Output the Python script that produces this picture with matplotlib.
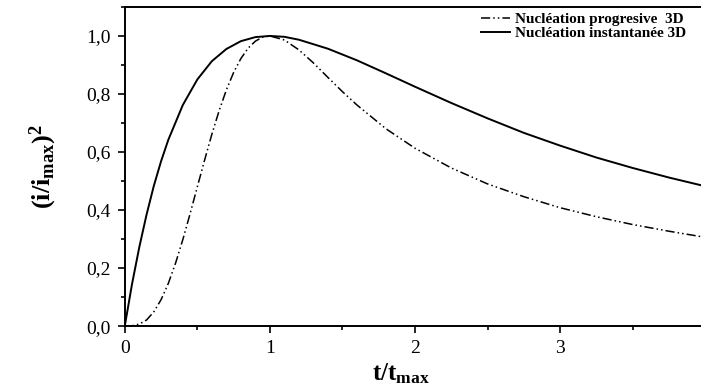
import numpy as np
import matplotlib
matplotlib.use('Agg')
import matplotlib.pyplot as plt
from matplotlib.ticker import MultipleLocator, FuncFormatter

plt.rcParams['font.family'] = ['Liberation Serif', 'DejaVu Serif']
plt.rcParams['mathtext.fontset'] = 'custom'
plt.rcParams['mathtext.rm'] = 'Liberation Serif'
plt.rcParams['mathtext.bf'] = 'Liberation Serif:bold'
plt.rcParams['mathtext.it'] = 'Liberation Serif:italic'

# instantaneous 3D
t_inst = [0, 0.05, 0.1, 0.15, 0.2, 0.25, 0.3, 0.4, 0.5, 0.6, 0.7, 0.8, 0.9, 1.0,
          1.1, 1.2, 1.4, 1.6, 1.8, 2.0, 2.25, 2.5, 2.75, 3.0, 3.25, 3.5, 3.75, 4.0]
y_inst = [0.0, 0.145, 0.272, 0.384, 0.483, 0.568, 0.642, 0.762, 0.850, 0.913, 0.955, 0.982, 0.996, 1.0,
          0.997, 0.987, 0.956, 0.916, 0.871, 0.825, 0.769, 0.716, 0.666, 0.622, 0.581, 0.545, 0.512, 0.482]

# progressive 3D
t_prog = [0, 0.05, 0.1, 0.15, 0.2, 0.25, 0.3, 0.35, 0.4, 0.45, 0.5, 0.55, 0.6, 0.65, 0.7, 0.75,
          0.8, 0.85, 0.9, 0.95, 1.0, 1.1, 1.2, 1.3, 1.4, 1.5, 1.6, 1.8, 2.0, 2.25, 2.5, 2.75,
          3.0, 3.25, 3.5, 3.75, 4.0]
y_prog = [0.0, 0.001, 0.007, 0.021, 0.049, 0.091, 0.147, 0.217, 0.298, 0.387, 0.480, 0.572, 0.661,
          0.742, 0.814, 0.874, 0.922, 0.958, 0.982, 0.996, 1.0, 0.986, 0.952, 0.907, 0.857, 0.808,
          0.762, 0.680, 0.613, 0.545, 0.490, 0.446, 0.408, 0.377, 0.350, 0.327, 0.306]

fig = plt.figure(figsize=(7.01, 3.85), dpi=100)
ax = fig.add_axes([0.178, 0.153, 0.828, 0.829])

ax.plot(t_prog, y_prog, color='black', linewidth=1.1,
        linestyle=(0, (6, 2, 1, 2, 1, 2)), label='Nucléation progresive  3D')
ax.plot(t_inst, y_inst, color='black', linewidth=1.4, label='Nucléation instantanée 3D')

ax.set_xlim(0, 4)
ax.set_ylim(0, 1.1)
ax.xaxis.set_major_locator(MultipleLocator(1))
ax.xaxis.set_minor_locator(MultipleLocator(0.5))
ax.yaxis.set_major_locator(MultipleLocator(0.2))
ax.yaxis.set_minor_locator(MultipleLocator(0.1))
# label "4" falls off the right edge of the figure
ax.xaxis.set_major_formatter(FuncFormatter(lambda v, p: f'{v:.0f}' if v < 3.5 else ''))
ax.yaxis.set_major_formatter(FuncFormatter(lambda v, p: f'{v:.1f}'.replace('.', ',')))
ax.tick_params(which='both', direction='out', labelsize=14, width=1.2)
ax.tick_params(which='major', length=5, pad=5)
ax.tick_params(which='minor', length=3)
for s in ax.spines.values():
    s.set_linewidth(1.4)

ax.set_xlabel(r'$\mathbf{t/t_{max}}$', fontsize=18)
ax.xaxis.set_label_coords(0.476, -0.112, transform=ax.transAxes)
ax.xaxis.label.set_va('top')
ax.set_ylabel(r'$\mathbf{(i/i_{max})^2}$', fontsize=19, labelpad=20)

leg = ax.legend(loc='upper right', frameon=False, bbox_to_anchor=(0.99, 1.025),
                prop={'weight': 'bold', 'size': 11}, handlelength=1.9,
                handletextpad=0.3, labelspacing=0.0)

fig.savefig('out.png', dpi=100)
